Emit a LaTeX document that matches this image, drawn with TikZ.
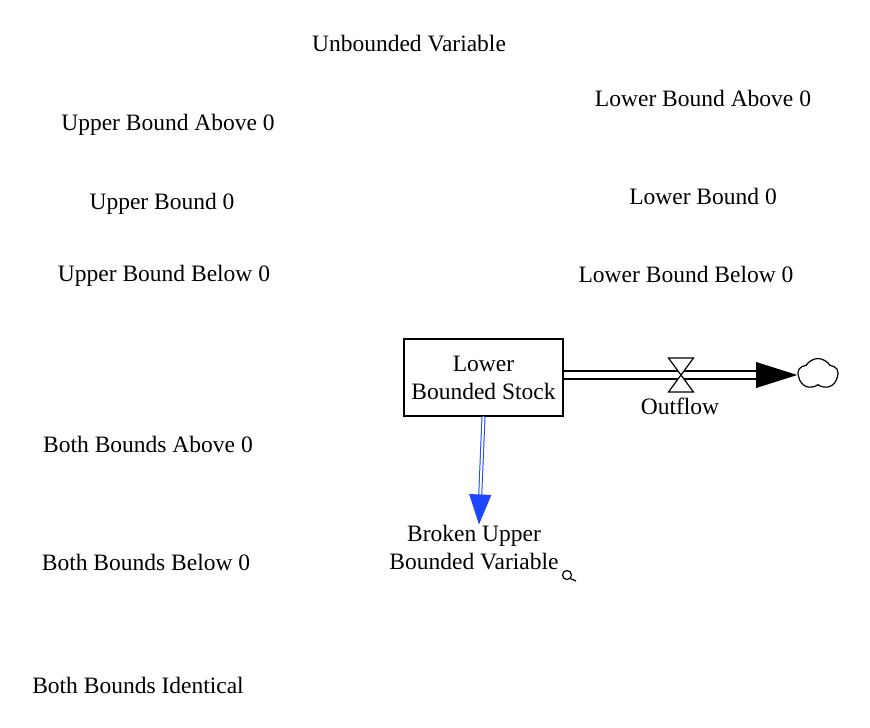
\documentclass[tikz,border=0pt]{standalone}
\usepackage{fontspec}
\setmainfont{Liberation Serif}
\usetikzlibrary{shapes.symbols,arrows.meta,calc}

\definecolor{linkblue}{RGB}{30,70,255}
\tikzset{
  varname/.style={font=\fontsize{23.5}{28}\selectfont, align=center, inner sep=0pt},
  stockbox/.style={draw, line width=1.4pt, minimum width=159pt, minimum height=77pt,
    font=\fontsize{23.5}{28}\selectfont, align=center, inner sep=0pt},
  pipe/.style={draw, line width=1.6pt, double, double distance=6pt},
  linkarrow/.style={draw=linkblue, line width=1pt, double, double distance=2pt,
    -{Triangle[length=30pt,width=22pt,fill=linkblue]}},
}

\begin{document}
\begin{tikzpicture}[x=1pt,y=-1pt]
  \useasboundingbox (0,0) rectangle (870,728);
  \fill[white] (0,0) rectangle (870,728);

  % auxiliaries
  \node[varname] (unbounded) at (409,44) {Unbounded Variable};
  \node[varname] (ubabove) at (168,125) {Upper Bound Above 0};
  \node[varname] (ubzero) at (162,204) {Upper Bound 0};
  \node[varname] (ubbelow) at (164,276) {Upper Bound Below 0};
  \node[varname] (lbabove) at (703,98) {Lower Bound Above 0};
  \node[varname] (lbzero) at (703,196) {Lower Bound 0};
  \node[varname] (lbbelow) at (686,274) {Lower Bound Below 0};
  \node[varname] (bbabove) at (148,444) {Both Bounds Above 0};
  \node[varname] (bbbelow) at (146,562) {Both Bounds Below 0};
  \node[varname] (bbsame) at (138,685) {Both Bounds Identical};

  % stock and flow
  \node[stockbox] (stock) at (483.5,377.5) {Lower\\Bounded Stock};
  \node[cloud, draw, line width=1.2pt, cloud puffs=5, cloud puff arc=120, aspect=1.3,
    minimum width=40pt, minimum height=31pt, inner sep=0pt] (sink) at (818,374) {};
  \coordinate (valve) at (681,375);
  \draw[pipe] (stock.east |- valve) -- ($(sink.west |- valve)+(-41,0)$);
  \fill ($(sink.west |- valve)+(-41,-13)$) -- (sink.west |- valve)
    -- ($(sink.west |- valve)+(-41,13)$) -- cycle;
  \draw[line width=1.2pt, fill=white] ($(valve)+(-12.5,-17)$) -- ++(25,0)
    -- ($(valve)+(-12.5,17)$) -- ++(25,0) -- cycle;
  \node[varname] (outflow) at (680,406) {Outflow};

  % broken variable
  \node[varname] (broken) at (474,548) {Broken Upper\\Bounded Variable};
  \draw[linkarrow] (stock.south) -- ([xshift=5pt,yshift=1pt]broken.north);
  \draw[line width=1.2pt] (567,575) circle (4.5pt);
  \draw[line width=1.2pt] (570.5,578.5) -- (576,581);
\end{tikzpicture}
\end{document}
